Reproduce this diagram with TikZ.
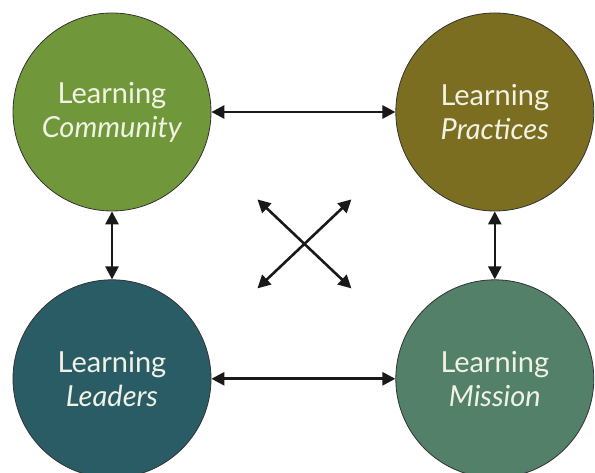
\documentclass[tikz,border=0pt]{standalone}
\usepackage{fontspec}
\setmainfont{Lato}
\usetikzlibrary{positioning, arrows.meta, calc}

\definecolor{commgreen}{RGB}{112,152,58}
\definecolor{practolive}{RGB}{124,110,32}
\definecolor{leadteal}{RGB}{42,92,102}
\definecolor{missgreen}{RGB}{82,128,104}
\definecolor{labelwhite}{RGB}{240,242,228}

\begin{document}
\begin{tikzpicture}[
  circ/.style={circle, draw=black!80, line width=0.8pt, minimum size=198pt, inner sep=0pt, align=center, text=labelwhite, font=\fontsize{29}{34}\selectfont},
  link/.style={{Triangle[length=13pt,width=13pt]}-{Triangle[length=13pt,width=13pt]}, line width=2.6pt, black!90},
  node distance=68pt and 184pt
]
\useasboundingbox (0,0) rectangle (595pt,-473pt);

% ======================
% CIRCLES
% ======================
\node[circ, fill=commgreen] (community) at (112pt,-112pt) {Learning\\\textit{Community}};
\node[circ, fill=practolive, right=of community] (practices) {Learning\\\textit{Practices}};
\node[circ, fill=leadteal, below=of community] (leaders) {Learning\\\textit{Leaders}};
\node[circ, fill=missgreen, below=of practices] (mission) {Learning\\\textit{Mission}};

% ======================
% CROSS
% ======================
\coordinate (hub) at ($(community)!0.5!(mission)$);
\coordinate[above left=46pt and 46pt of hub] (nw);
\coordinate[above right=46pt and 48pt of hub] (ne);
\coordinate[below left=43pt and 46pt of hub] (sw);
\coordinate[below right=43pt and 48pt of hub] (se);

% ======================
% RELATIONSHIPS
% ======================
\draw[link] (community) -- (practices);
\draw[link] (leaders) -- (mission);
\draw[link] (community) -- (leaders);
\draw[link] (practices) -- (mission);
\draw[link] (nw) -- (se);
\draw[link] (ne) -- (sw);

\end{tikzpicture}
\end{document}
